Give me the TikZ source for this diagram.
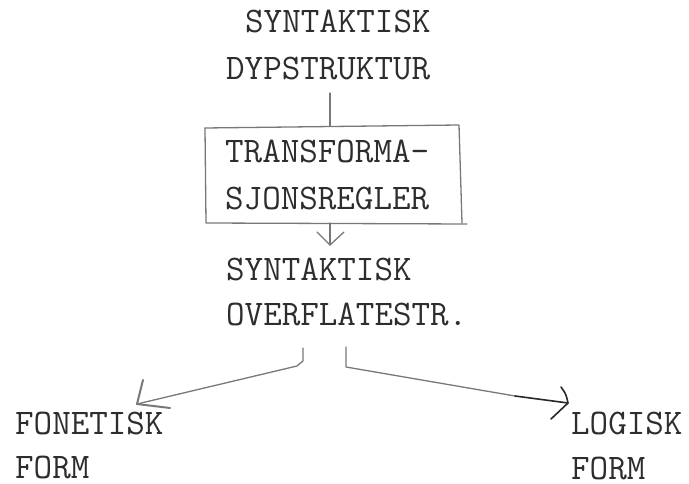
\documentclass[tikz,border=0pt]{standalone}
\usepackage{fontspec}
\definecolor{ink}{RGB}{45,45,45}
\definecolor{pencil}{RGB}{120,120,120}
\definecolor{darkpen}{RGB}{40,40,40}
\begin{document}
\begin{tikzpicture}[x=1pt,y=-1pt,
  lbl/.style={anchor=base west, inner sep=0pt, text=ink,
              font=\fontsize{36}{40}\selectfont\ttfamily},
  pen/.style={draw=pencil, line width=1.3pt, line cap=round, line join=round},
  dark/.style={draw=darkpen, line width=1.6pt, line cap=round, line join=round}]
\useasboundingbox (0,0) rectangle (689,484);

% text blocks
\node[lbl] (deep1) at (245,33)  {SYNTAKTISK};
\node[lbl] (deep2) at (226,80)  {DYPSTRUKTUR};
\node[lbl] (rule1) at (225,163) {TRANSFORMA-};
\node[lbl] (rule2) at (225,210) {SJONSREGLER};
\node[lbl] (surf1) at (226,280) {SYNTAKTISK};
\node[lbl] (surf2) at (226,326) {OVERFLATESTR.};
\node[lbl] (phon1) at (15,434)  {FONETISK};
\node[lbl] (phon2) at (15,478)  {FORM};
\node[lbl] (logi1) at (571,434) {LOGISK};
\node[lbl] (logi2) at (571,479) {FORM};

% hand-drawn frame around the transformation rules
\coordinate (tl) at (205,128);
\coordinate (tr) at (459,125);
\coordinate (bl) at (206,223);
\coordinate (br) at (462,223);
\coordinate (bx) at (467,224);
\coordinate (tj) at (330,126);
\draw[pen] (tl) -- (tr) -- (br);
\draw[pen] (tl) -- (bl) -- (bx);

% deep structure -> rules
\coordinate (d0) at (330,93);
\draw[pen] (d0) -- (tj);

% rules -> surface structure
\coordinate (a0) at (330,223);
\coordinate (a1) at (330,245);
\draw[pen] (a0) -- (a1);
\draw[pen] (317,232) -- (a1) -- (344,232);

% surface structure -> phonetic form
\coordinate (p0) at (303,348);
\coordinate (p1) at (303,361);
\coordinate (p2) at (297,366);
\coordinate (p3) at (137,404);
\draw[pen] (p0) -- (p1) -- (p2) -- (p3);
\draw[pen, line width=2pt] (143,380) -- (p3) -- (170,408);

% surface structure -> logical form
\coordinate (q0) at (346,347);
\coordinate (q1) at (346,367);
\coordinate (q2) at (515,396);
\coordinate (q3) at (568,403);
\draw[pen] (q0) -- (q1) -- (q2);
\draw[dark] (q2) -- (q3);
\draw[dark] (561,387) .. controls (566,394) .. (q3) -- (551,419);
\end{tikzpicture}
\end{document}
